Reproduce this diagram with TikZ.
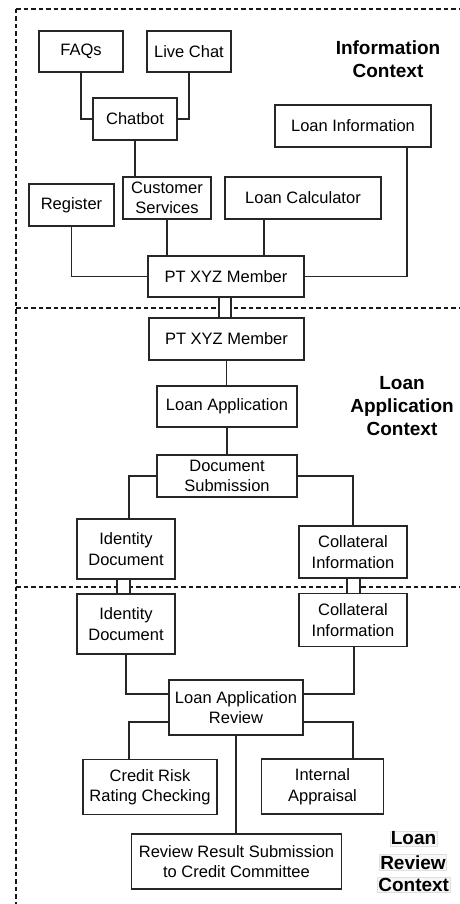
\documentclass[tikz,border=0pt]{standalone}
\usepackage{fontspec}
\setmainfont{Liberation Sans}
\begin{document}
\begin{tikzpicture}[x=1pt,y=-1pt,
  box/.style={draw=black!85, line width=1.2pt, rectangle, align=center, inner sep=1pt,
    font=\fontsize{16.5}{20.5}\selectfont},
  conn/.style={draw=black!85, line width=1.2pt},
  ctx/.style={dash pattern=on 4.5pt off 3pt, line width=1.1pt, draw=black!90},
  title/.style={align=center, font=\fontsize{19}{23}\selectfont\bfseries},
  hl/.style={font=\fontsize{19}{23}\selectfont\bfseries, fill=gray!6, draw=gray!25, line width=0.6pt, inner sep=1pt}
]
\useasboundingbox (0,0) rectangle (460,904);
% context separators
\draw[ctx] (16,9) -- (460,9);
\draw[ctx] (16,9) -- (16,904);
\draw[ctx] (16,308) -- (460,308);
\draw[ctx] (16,587) -- (460,587);

% Information context
\node[box, minimum width=84pt, minimum height=41pt] (faq) at (81,51.5) {FAQs};
\node[box, minimum width=84pt, minimum height=41pt] (live) at (189,51.5) {Live Chat};
\node[box, minimum width=84pt, minimum height=42pt] (chatbot) at (135,119) {Chatbot};
\node[box, minimum width=156pt, minimum height=42pt] (loaninfo) at (353,126) {Loan Information};
\node[box, minimum width=88pt, minimum height=42pt] (custserv) at (167,198) {Customer\\Services};
\node[box, minimum width=85pt, minimum height=42pt] (register) at (71.5,205) {Register};
\node[box, minimum width=156pt, minimum height=42pt] (loancalc) at (303,198) {Loan Calculator};
\node[box, minimum width=156pt, minimum height=41pt] (pt1) at (226,276.5) {PT XYZ Member};
\node[title] (t1) at (388,59.5) {Information\\Context};

\draw[conn] (faq.south) |- (chatbot.west);
\draw[conn] (live.south) |- (chatbot.east);
\draw[conn] (chatbot.south) -- (chatbot.south |- custserv.north);
\draw[conn] (register.south) |- (pt1.west);
\draw[conn] (custserv.south) -- (custserv.south |- pt1.north);
\draw[conn] ([xshift=-39pt]loancalc.south) -- ([xshift=-39pt]loancalc.south |- pt1.north);
\draw[conn] ([xshift=54pt]loaninfo.south) |- (pt1.east);

% Loan application context
\node[box, minimum width=155pt, minimum height=42pt] (pt2) at (226.5,339) {PT XYZ Member};
\node[box, minimum width=140pt, minimum height=41pt] (loanapp) at (227,406.5) {Loan Application};
\node[box, minimum width=140pt, minimum height=42pt] (docsub) at (227,476) {Document\\Submission};
\node[box, minimum width=98pt, minimum height=60pt] (id1) at (126,549) {Identity\\Document};
\node[box, minimum width=108pt, minimum height=52pt] (col1) at (353,552) {Collateral\\Information};
\node[title] (t2) at (402,406.5) {Loan\\Application\\Context};

\draw[conn] (pt2.south) -- (pt2.south |- loanapp.north);
\draw[conn] (loanapp.south) -- (docsub.north);
\draw[conn] (docsub.west) -| ([xshift=3pt]id1.north);
\draw[conn] (docsub.east) -| (col1.north);

% Loan review context
\node[box, minimum width=98pt, minimum height=60pt] (id2) at (126,624) {Identity\\Document};
\node[box, minimum width=108pt, minimum height=53pt] (col2) at (353,620) {Collateral\\Information};
\node[box, minimum width=134pt, minimum height=55pt] (lar) at (236,707.5) {Loan Application\\Review};
\node[box, minimum width=134pt, minimum height=55pt] (crr) at (150,787) {Credit Risk\\Rating Checking};
\node[box, minimum width=122pt, minimum height=55pt] (ia) at (322.5,786.5) {Internal\\Appraisal};
\node[box, minimum width=210pt, minimum height=55pt] (rrs) at (236.5,861.5) {Review Result Submission\\to Credit Committee};
\node[hl] (t3a) at (413.5,838.5) {Loan};
\node[hl] (t3b) at (413,862.5) {Review};
\node[hl] (t3c) at (413.7,885) {Context};

\draw[conn] (id2.south) |- ([yshift=13.5pt]lar.west);
\draw[conn] ([xshift=1pt]col2.south) |- ([yshift=13.5pt]lar.east);
\draw[conn] ([yshift=-14.5pt]lar.west) -| ([xshift=-21pt]crr.north);
\draw[conn] ([yshift=-14.5pt]lar.east) -| ([xshift=30.5pt]ia.north);
\draw[conn] (lar.south) -- (lar.south |- rrs.north);

% double links between contexts
\fill[white] ([xshift=-7pt]pt1.south) rectangle ([xshift=5pt]pt2.north);
\draw[conn] ([xshift=-7pt]pt1.south) -- ([xshift=-7pt]pt1.south |- pt2.north);
\draw[conn] ([xshift=5pt]pt1.south) -- ([xshift=5pt]pt1.south |- pt2.north);
\fill[white] ([xshift=-9pt]id1.south) rectangle ([xshift=4pt]id2.north);
\draw[conn] ([xshift=-9pt]id1.south) -- ([xshift=-9pt]id2.north);
\draw[conn] ([xshift=4pt]id1.south) -- ([xshift=4pt]id2.north);
\fill[white] ([xshift=-6pt]col1.south) rectangle ([xshift=7pt]col2.north);
\draw[conn] ([xshift=-6pt]col1.south) -- ([xshift=-6pt]col2.north);
\draw[conn] ([xshift=7pt]col1.south) -- ([xshift=7pt]col2.north);
\end{tikzpicture}
\end{document}
